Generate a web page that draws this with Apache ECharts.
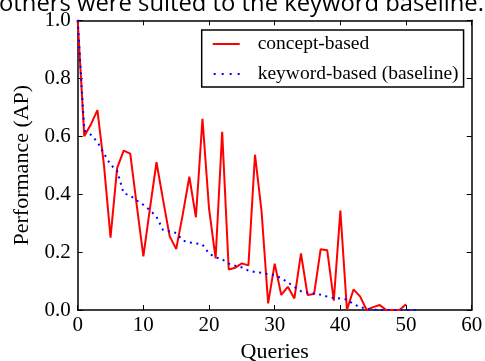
<!DOCTYPE html>
<html><head><meta charset="utf-8">
<script src="https://cdn.jsdelivr.net/npm/echarts@6/dist/echarts.min.js"></script>
<style>html,body{margin:0;padding:0;background:#fff}#c{width:485px;height:361px}</style>
</head><body><div id="c"></div>
<script>
// Query index for each measured point
const conceptQueries = [0,1,2,3,4,5,6,7,8,9,10,11,12,13,14,15,16,17,18,19,20,21,22,23,24,25,26,27,28,29,30,31,32,33,34,35,36,37,38,39,40,41,42,43,44,45,46,47,48,49,50];
const conceptAP = [1.0,0.6,0.64,0.69,0.5,0.25,0.49,0.55,0.54,0.36,0.185,0.35,0.51,0.38,0.255,0.21,0.33,0.46,0.32,0.66,0.35,0.178,0.615,0.14,0.146,0.161,0.154,0.536,0.34,0.023,0.16,0.052,0.08,0.04,0.195,0.052,0.055,0.21,0.206,0.032,0.343,0.0,0.071,0.047,0.0,0.01,0.017,0.0,0.0,0.0,0.02];
const keywordQueries = [0,1,2,3,4,5,6,7,8,9,10,11,12,13,14,15,16,17,18,19,20,21,22,23,24,25,26,27,28,29,30,31,32,33,34,35,36,37,38,39,40,41,42,43,44,45,46,47,48,49,50,51,52];
const keywordAP = [1.0,0.62,0.605,0.58,0.54,0.502,0.48,0.403,0.395,0.378,0.363,0.345,0.322,0.276,0.272,0.266,0.24,0.233,0.23,0.226,0.195,0.182,0.175,0.16,0.153,0.147,0.136,0.131,0.128,0.124,0.12,0.11,0.095,0.08,0.065,0.06,0.057,0.053,0.046,0.041,0.04,0.036,0.02,0.01,0.004,0.001,0,0,0,0,0,0,0];
const xTicks = [0,10,20,30,40,50,60];
const yTicks = [0.0,0.2,0.4,0.6,0.8,1.0];
const seriesNames = ['concept-based','keyword-based (baseline)'];
const headerText = 'others were suited to the keyword baseline.';

const chart = echarts.init(document.getElementById('c'), null, {renderer:'canvas'});
const serif = 'Liberation Serif';
const axisCommon = {
  axisLine:{show:true,onZero:false,lineStyle:{color:'#000',width:1.5}},
  axisTick:{show:true,inside:true,length:5,lineStyle:{color:'#000',width:1}},
  splitLine:{show:false}
};
chart.setOption({
  animation:false,
  backgroundColor:'#fff',
  grid:{left:77.7,top:20.3,right:13.3,bottom:51,show:false,containLabel:false,outerBoundsMode:'none'},
  graphic:[{type:'text',left:-1,top:-8,style:{text:headerText,font:'23.8px "Open Sans"',fill:'#000'}}],
  legend:{
    orient:'vertical',left:201.7,top:30,
    padding:[4,5,3,11],itemGap:10,itemWidth:27,itemHeight:2,
    backgroundColor:'#fff',borderColor:'#000',borderWidth:1.5,borderRadius:0,
    textStyle:{fontFamily:serif,fontSize:19.5,color:'#000',lineHeight:20,padding:[0,0,0,13]},
    data:[
      {name:seriesNames[0],icon:'path://M0,0h27v2h-27z'},
      {name:seriesNames[1],icon:'path://M1,0h2v2h-2zM9,0h2v2h-2zM17,0h2v2h-2zM25,0h2v2h-2zM0,0h0.01v0.01h-0.01zM27,0h0.01v0.01h-0.01z'}
    ]
  },
  xAxis:[
    Object.assign({type:'value',position:'bottom',min:xTicks[0],max:xTicks[xTicks.length-1],interval:10,
      name:'Queries',nameLocation:'middle',nameGap:29,
      nameTextStyle:{fontFamily:serif,fontSize:22,color:'#000'},
      axisLabel:{fontFamily:serif,fontSize:21,color:'#000',margin:5}},axisCommon),
    Object.assign({type:'value',position:'top',min:xTicks[0],max:xTicks[xTicks.length-1],interval:10,
      axisLabel:{show:false}},axisCommon)
  ],
  yAxis:[
    Object.assign({type:'value',position:'left',min:yTicks[0],max:yTicks[yTicks.length-1],interval:0.2,
      name:'Performance (AP)',nameLocation:'middle',nameGap:37,
      nameTextStyle:{fontFamily:serif,fontSize:22,color:'#000'},
      axisLabel:{fontFamily:serif,fontSize:21,color:'#000',margin:7,formatter:v=>v.toFixed(1)}},axisCommon),
    Object.assign({type:'value',position:'right',min:yTicks[0],max:yTicks[yTicks.length-1],interval:0.2,
      axisLabel:{show:false}},axisCommon)
  ],
  series:[
    {name:seriesNames[0],type:'line',symbol:'none',z:3,
      data:conceptQueries.map((q,i)=>[q,conceptAP[i]]),
      lineStyle:{color:'#ff0000',width:2},itemStyle:{color:'#ff0000'}},
    {name:seriesNames[1],type:'line',symbol:'none',z:4,
      data:keywordQueries.map((q,i)=>[q,keywordAP[i]]),
      lineStyle:{color:'#0000ff',width:2,type:[2,4.5],cap:'butt'},itemStyle:{color:'#0000ff'}}
  ]
});
</script></body></html>
